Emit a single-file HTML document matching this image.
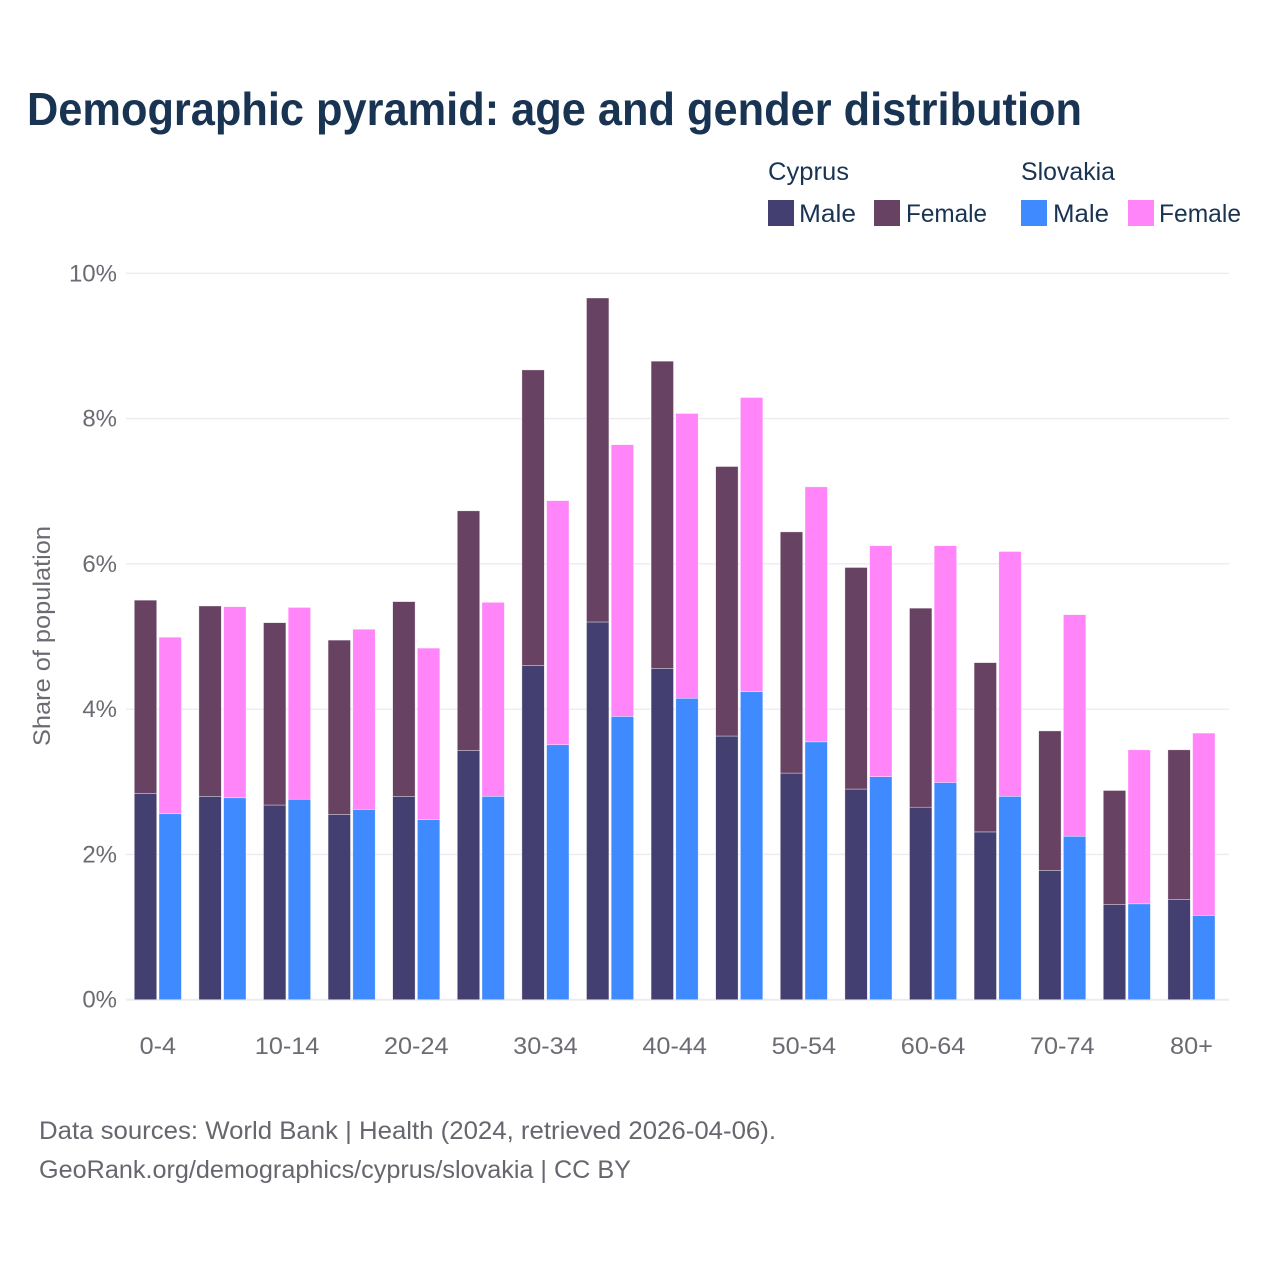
<!DOCTYPE html>
<html lang="en">
<head>
<meta charset="utf-8">
<title>Demographic pyramid</title>
<style>
html,body{margin:0;padding:0;background:#fff;width:1280px;height:1280px;overflow:hidden}
svg{display:block;font-family:"Liberation Sans",sans-serif}
</style>
</head>
<body>
<svg id="chart" width="1280" height="1280" viewBox="0 0 1280 1280" xmlns="http://www.w3.org/2000/svg">
  <rect width="1280" height="1280" fill="#fff"/>
  <text x="27" y="125" font-size="46" font-weight="700" fill="#193353" textLength="1055" lengthAdjust="spacingAndGlyphs">Demographic pyramid: age and gender distribution</text>

  <g font-size="25" fill="#193353">
    <text x="768" y="180" textLength="81" lengthAdjust="spacingAndGlyphs">Cyprus</text>
    <text x="1021" y="180" textLength="94" lengthAdjust="spacingAndGlyphs">Slovakia</text>
    <rect x="768" y="200" width="26" height="26" fill="#433f70"/>
    <text x="799" y="222" textLength="57" lengthAdjust="spacingAndGlyphs">Male</text>
    <rect x="874" y="200" width="26" height="26" fill="#674262"/>
    <text x="906" y="222" textLength="81" lengthAdjust="spacingAndGlyphs">Female</text>
    <rect x="1021" y="200" width="26" height="26" fill="#408aff"/>
    <text x="1053" y="222" textLength="56" lengthAdjust="spacingAndGlyphs">Male</text>
    <rect x="1128" y="200" width="26" height="26" fill="#ff85f9"/>
    <text x="1159" y="222" textLength="82" lengthAdjust="spacingAndGlyphs">Female</text>
  </g>

  <g id="grid"></g>
  <g id="bars"></g>
  <g id="y-ticks"></g>
  <g id="x-ticks"></g>

  <text transform="translate(50,636) rotate(-90)" text-anchor="middle" font-size="24" fill="#6b6b73" textLength="220" lengthAdjust="spacingAndGlyphs">Share of population</text>

  <text x="39" y="1139" font-size="25" fill="#66666e" textLength="737" lengthAdjust="spacingAndGlyphs">Data sources: World Bank | Health (2024, retrieved 2026-04-06).</text>
  <text x="39" y="1178" font-size="25" fill="#66666e" textLength="592" lengthAdjust="spacingAndGlyphs">GeoRank.org/demographics/cyprus/slovakia | CC BY</text>
</svg>
<script>
const ageGroups = ['0-4','5-9','10-14','15-19','20-24','25-29','30-34','35-39','40-44','45-49','50-54','55-59','60-64','65-69','70-74','75-79','80+'];
const cyprusMale = [2.84,2.80,2.68,2.55,2.80,3.43,4.60,5.20,4.56,3.63,3.12,2.90,2.65,2.31,1.78,1.31,1.38];
const cyprusFemale = [2.66,2.62,2.51,2.40,2.68,3.30,4.07,4.46,4.23,3.71,3.32,3.05,2.74,2.33,1.92,1.57,2.06];
const slovakiaMale = [2.56,2.78,2.76,2.62,2.48,2.80,3.51,3.90,4.15,4.24,3.55,3.07,2.99,2.80,2.25,1.32,1.16];
const slovakiaFemale = [2.43,2.63,2.64,2.48,2.36,2.67,3.36,3.74,3.92,4.05,3.51,3.18,3.26,3.37,3.05,2.12,2.51];
const yTickValues = [0,2,4,6,8,10];
const xTickLabels = ['0-4','10-14','20-24','30-34','40-44','50-54','60-64','70-74','80+'];

const NS = 'http://www.w3.org/2000/svg';
const plot = {left:126, right:1229, base:999.7, perUnit:72.64, first:134.3, band:64.6, barW:22.4, offset:24.7};
const yScale = v => plot.base - v * plot.perUnit;
const bandX = i => plot.first + i * plot.band;

function make(tag, parent, attrs) {
  const el = document.createElementNS(NS, tag);
  Object.keys(attrs).forEach(k => el.setAttribute(k, attrs[k]));
  parent.appendChild(el);
  return el;
}

const grid = document.getElementById('grid');
const yTicks = document.getElementById('y-ticks');
yTickValues.forEach(v => {
  const line = make('line', grid, {x1:plot.left, x2:plot.right, y1:yScale(v), y2:yScale(v), stroke:'#ecebf1', 'stroke-width': v === 0 ? 2 : 1.4});
  
  
  const t = make('text', yTicks, {x:117, y:yScale(v) + 8, 'text-anchor':'end', 'font-size':24, fill:'#6b6b73'});
  t.textContent = v + '%';
  
  
});

const barsRoot = document.getElementById('bars');
function drawSegment(x, v0, v1, fill, name) {
  const top = yScale(v1), bottom = yScale(v0);
  const r = make('rect', barsRoot, {x:x, y:top, width:plot.barW, height:bottom - top, fill:fill, stroke:'#fff', 'stroke-width':0.6, 'stroke-opacity':0.6});
  
  
}
ageGroups.forEach((age, i) => {
  const x0 = bandX(i), x1 = x0 + plot.offset;
  drawSegment(x0, 0, cyprusMale[i], '#433f70', 'bar-cyprus-male-' + age);
  drawSegment(x0, cyprusMale[i], cyprusMale[i] + cyprusFemale[i], '#674262', 'bar-cyprus-female-' + age);
  drawSegment(x1, 0, slovakiaMale[i], '#408aff', 'bar-slovakia-male-' + age);
  drawSegment(x1, slovakiaMale[i], slovakiaMale[i] + slovakiaFemale[i], '#ff85f9', 'bar-slovakia-female-' + age);
});

const xTicks = document.getElementById('x-ticks');
xTickLabels.forEach(label => {
  const i = ageGroups.indexOf(label);
  const cx = bandX(i) + (plot.offset + plot.barW) / 2;
  const t = make('text', xTicks, {x:cx, y:1054, 'text-anchor':'middle', 'font-size':24, fill:'#6b6b73'});
  t.textContent = label;
  
  
  t.setAttribute('textLength', (t.getComputedTextLength() * 1.05).toFixed(1));
  t.setAttribute('lengthAdjust', 'spacingAndGlyphs');
});
</script>
</body>
</html>
